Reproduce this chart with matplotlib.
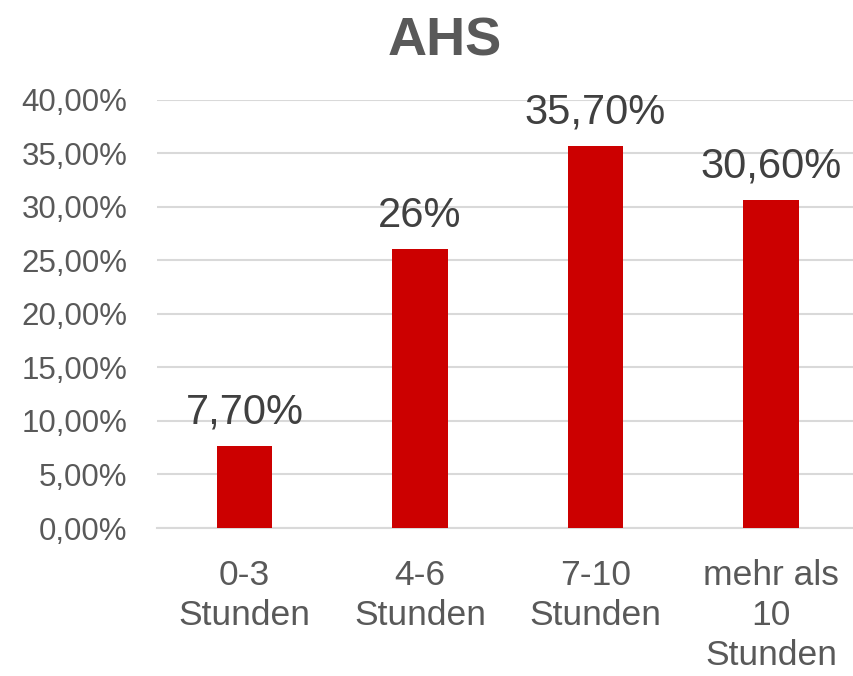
import matplotlib
matplotlib.use('Agg')
import matplotlib.pyplot as plt
from matplotlib.ticker import FuncFormatter

plt.rcParams['font.family'] = ['Liberation Sans', 'DejaVu Sans']

# ─── data ───
categories = ['0-3\nStunden', '4-6\nStunden', '7-10\nStunden', 'mehr als\n10\nStunden']
shares = [0.077, 0.26, 0.357, 0.306]
share_labels = ['7,70%', '26%', '35,70%', '30,60%']
y_ticks = [0.0, 0.05, 0.10, 0.15, 0.20, 0.25, 0.30, 0.35, 0.40]

text_col = '#595959'
bar_col = '#cc0000'
grid_col = '#d9d9d9'

fig = plt.figure(figsize=(8.54, 6.76), dpi=100, facecolor='white')
ax = fig.add_axes([0.1835, 0.2189, 0.822, 0.6339])

x = range(len(categories))
bars = ax.bar(x, shares, width=0.315, color=bar_col, zorder=3)

for rect, lab in zip(bars, share_labels):
    ax.annotate(lab, (rect.get_x() + rect.get_width() / 2, rect.get_height()),
                textcoords='offset points', xytext=(0, 16),
                ha='center', va='baseline', fontsize=30, color='#404040')

ax.set_xlim(-0.5, len(categories) - 0.5)
ax.set_ylim(0, 0.40)
ax.set_yticks(y_ticks)
ax.yaxis.set_major_formatter(
    FuncFormatter(lambda v, _: f'{v * 100:.2f}%'.replace('.', ',')))
ax.set_xticks(list(x))
ax.set_xticklabels(categories, fontsize=25.5, color=text_col, linespacing=1.28)
ax.tick_params(axis='x', length=0, pad=22)
ax.tick_params(axis='y', length=0, pad=21, labelsize=22.5, labelcolor=text_col)

ax.grid(axis='y', color=grid_col, linewidth=1.5, zorder=0)
for side in ['top', 'right', 'left']:
    ax.spines[side].set_visible(False)
ax.spines['bottom'].set_color(grid_col)
ax.spines['bottom'].set_linewidth(1.5)

fig.text(0.521, 0.9186, 'AHS', fontsize=39, fontweight='bold', color=text_col,
         ha='center', va='baseline')

fig.savefig('out.png', dpi=100)
